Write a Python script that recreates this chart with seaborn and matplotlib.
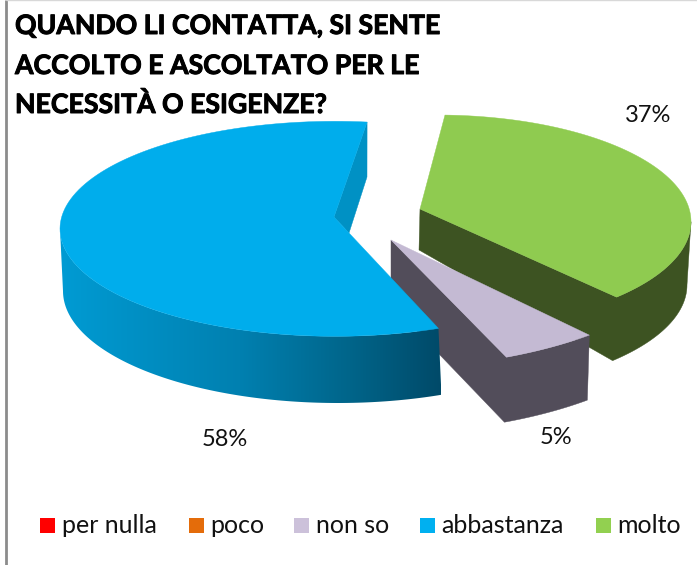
import numpy as np
import matplotlib
matplotlib.use("Agg")
import matplotlib.pyplot as plt
import matplotlib.patheffects as pe
from matplotlib.colors import LinearSegmentedColormap
from matplotlib.patches import Polygon, Rectangle
import seaborn as sns

# ---- data -------------------------------------------------------------
categories = ["per nulla", "poco", "non so", "abbastanza", "molto"]
shares = [0, 0, 5, 58, 37]
title_lines = ["QUANDO LI CONTATTA, SI SENTE",
               "ACCOLTO E ASCOLTATO PER LE",
               "NECESSITÀ O ESIGENZE?"]
legend_colors = ["#FF0000", "#E46C0A", "#CCC1DA", "#00B0F0", "#92D050"]

# ---- style / layout (pixel space) ---------------------------------------
sns.set_theme(style="white")
plt.rcParams["font.family"] = ["Lato", "DejaVu Sans"]
W, H = 697, 565
START = 139.6  # clockwise from 12 o'clock, where the first visible slice starts

# rim ellipses for the extruded perspective pie: top (cx, cy, a, b), bottom (cx, cy, a, b)
geom = {
    "non so": dict(top=(376, 240, 317, 128.6), bot=(374, 305, 317, 128.6),
                   apex=(391, 240), apex_low=(391, 304), rot=-1.9,
                   face="#C4BAD3", side="#524D5A"),
    "abbastanza": dict(top=(335, 228.8, 275, 107.5), bot=(338, 291, 275, 112),
                       apex=(334, 217), rot=0.3, face="#00ADEC"),
    "molto": dict(top=(437, 221.7, 254, 106.7), bot=(433, 285, 254, 107),
                  apex=(420, 209), apex_low=(419, 250), rot=-4.6,
                  face="#8FCB50", side="#3D5322"),
}
blue_wall = "#0091C4"
blue_wall_low = (367, 177)
blue_ramp = [(60, "#009BD3"), (240, "#0080B0"), (350, "#00658A"), (441, "#004A69")]

legend_x = {"per nulla": (40, 62), "poco": (189, 210), "non so": (294, 316),
            "abbastanza": (420, 441), "molto": (596, 617)}
pct_pos = {"non so": (556, 438), "abbastanza": (225, 440), "molto": (648, 116)}


def rim(e, t0, t1, n=120):
    th = np.radians(np.linspace(t0, t1, n))
    cx, cy, a, b = e
    return np.column_stack([cx + a * np.sin(th), cy - b * np.cos(th)])


# slice spans derived from the values
span = {}
cum = START
for c, v in zip(categories, shares):
    if v > 0:
        r = geom[c]["rot"]
        span[c] = (cum + r, cum + r + v * 3.6)
        cum += v * 3.6

fig = plt.figure(figsize=(W / 100, H / 100), dpi=100)
ax = fig.add_axes([0, 0, 1, 1])
ax.set_xlim(0, W)
ax.set_ylim(H, 0)
ax.axis("off")
palette = sns.color_palette(legend_colors)


def poly(pts, color, z):
    ax.add_patch(Polygon(pts, closed=True, facecolor=color, edgecolor=color, lw=0.3, zorder=z))


# molto (its span runs past a full turn, so the right-hand extreme is at 450 degrees)
g, (t0, t1) = geom["molto"], span["molto"]
t_right = 450
side = np.vstack([[g["apex"]], rim(g["top"], t1, t_right),
                  rim(g["bot"], t_right, t1), [g["apex_low"]]])
poly(side, g["side"], 2)
poly(np.vstack([[g["apex"]], rim(g["top"], t0, t1)]), g["face"], 3)

# non so
g, (t0, t1) = geom["non so"], span["non so"]
poly(np.vstack([[g["apex"]], rim(g["top"], t1, t0), rim(g["bot"], t0, t1), [g["apex_low"]]]), g["side"], 4)
poly(np.vstack([[g["apex"]], rim(g["top"], t0, t1)]), g["face"], 5)

# abbastanza
g, (t0, t1) = geom["abbastanza"], span["abbastanza"]
side_pts = np.vstack([rim(g["top"], t0, 270), rim(g["bot"], 270, t0)])
xs = [p for p, _ in blue_ramp]
cmap = LinearSegmentedColormap.from_list(
    "blue_side", [((p - xs[0]) / (xs[-1] - xs[0]), c) for p, c in blue_ramp])
im = ax.imshow(np.linspace(0, 1, 256)[None, :], cmap=cmap, aspect="auto",
               extent=(xs[0], xs[-1], 420, 220), zorder=6)
clip = Polygon(side_pts, closed=True, transform=ax.transData, facecolor="none", edgecolor="none")
ax.add_patch(clip)
im.set_clip_path(clip)
end_pt = rim(g["top"], t1, t1, 1)[0]
poly([end_pt, blue_wall_low, (349, 233), g["apex"]], blue_wall, 7)
poly(np.vstack([[g["apex"]], rim(g["top"], t0, t1)]), g["face"], 8)
ax.set_xlim(0, W)
ax.set_ylim(H, 0)

# percentage labels
for c, v in zip(categories, shares):
    if v > 0:
        x, y = pct_pos[c]
        ax.text(x, y, f"{v}%", ha="center", va="center", fontsize=17, color="#111111", zorder=10)

# title
for line, base in zip(title_lines, [34, 74, 113]):
    ax.text(15, base, line, ha="left", va="baseline", fontsize=19.2, fontweight="bold",
            color="black", zorder=11,
            path_effects=[pe.withStroke(linewidth=0.7, foreground="black")])

# legend
for c, col in zip(categories, palette):
    bx, tx = legend_x[c]
    ax.add_patch(Rectangle((bx, 518), 15, 15, facecolor=col, edgecolor="none", zorder=10))
    ax.text(tx, 533, c, ha="left", va="baseline", fontsize=18, color="#111111", zorder=10)

# frame
ax.plot([5.5, 5.5], [0, H], color="#8C8C8C", lw=2, zorder=12, solid_capstyle="butt")
ax.plot([5.5, W], [0.3, 0.3], color="#D8D8D8", lw=1, zorder=12, solid_capstyle="butt")

fig.savefig("out.png", dpi=100, facecolor="white")
